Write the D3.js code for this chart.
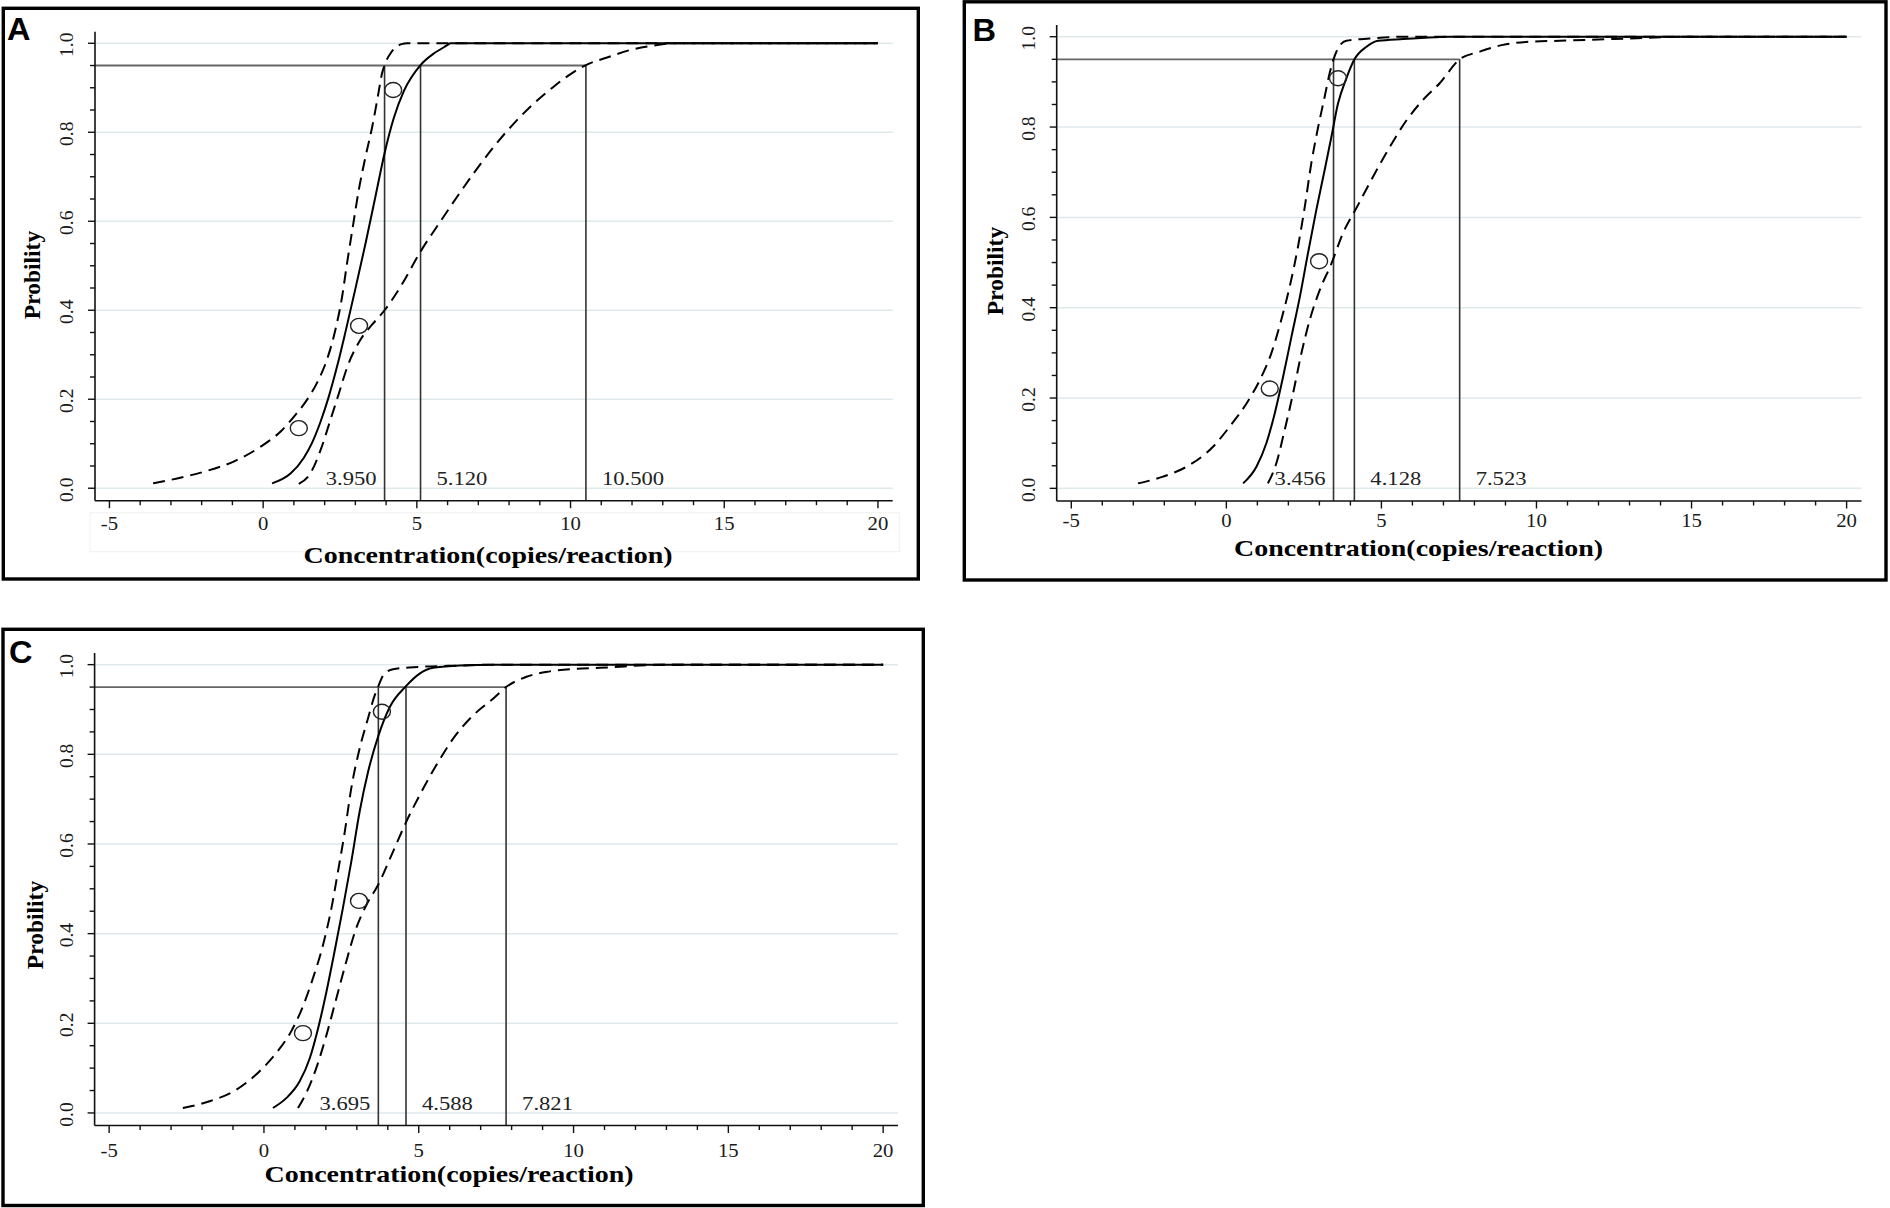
<!DOCTYPE html>
<html><head><meta charset="utf-8">
<script src="https://cdn.jsdelivr.net/npm/d3@7/dist/d3.min.js"></script>
<style>body{margin:0;background:#fff}svg{display:block}</style>
</head><body>
<svg id="chart" width="1890" height="1208"></svg>
<script>
// ---------- data ----------
const panelLetters = ["A", "B", "C"];
const xTickValues = [-5, 0, 5, 10, 15, 20];
const yTickValues = [0, 0.2, 0.4, 0.6, 0.8, 1.0];
const yTickLabels = ["0.0", "0.2", "0.4", "0.6", "0.8", "1.0"];
const xAxisTitle = "Concentration(copies/reaction)";
const yAxisTitle = "Probility";
const targetProb = 0.95;

const fitA = [[0.29,0.011],[0.89,0.033],[1.32,0.068],[1.59,0.102],[1.87,0.15],[2.14,0.207],[2.41,0.275],[2.68,0.352],[3.00,0.448],[3.33,0.55],[3.66,0.658],[3.95,0.753],[4.25,0.832],[4.58,0.893],[5.12,0.951],[5.55,0.977],[5.88,0.991],[5.99,0.996],[6.1,1.0],[20,1.0]];
const upperA = [[-3.58,0.011],[-2.80,0.022],[-1.93,0.037],[-0.96,0.060],[-0.09,0.093],[0.62,0.131],[1.05,0.165],[1.42,0.198],[1.76,0.238],[2.08,0.29],[2.35,0.356],[2.57,0.431],[2.73,0.506],[2.90,0.58],[3.11,0.67],[3.33,0.745],[3.55,0.813],[3.73,0.88],[3.87,0.933],[3.95,0.951],[4.18,0.981],[4.50,0.998],[4.69,1.0],[20,1.0]];
const lowerA = [[1.16,0.01],[1.54,0.034],[1.87,0.086],[2.19,0.154],[2.45,0.21],[2.75,0.275],[3.15,0.332],[3.55,0.368],[3.95,0.40],[4.47,0.453],[5.12,0.532],[5.77,0.60],[6.31,0.655],[6.85,0.708],[7.51,0.768],[8.16,0.82],[8.81,0.865],[9.46,0.903],[10.05,0.933],[10.50,0.951],[11.19,0.968],[11.95,0.985],[12.82,0.996],[13.36,1.0],[20,1.0]];
const obsA = [[1.16,0.135],[3.12,0.365],[4.23,0.895]];
const limitsA = [3.950, 5.120, 10.500];
const limitLabelsA = ["3.950", "5.120", "10.500"];

const fitB = [[0.54,0.011],[0.97,0.048],[1.29,0.10],[1.56,0.166],[1.83,0.247],[2.10,0.336],[2.37,0.424],[2.63,0.52],[2.90,0.616],[3.17,0.705],[3.39,0.779],[3.60,0.852],[3.87,0.908],[4.13,0.95],[4.52,0.978],[4.89,0.991],[5.70,0.995],[6.77,0.999],[7.2,1.0],[20,1.0]];
const upperB = [[-2.85,0.011],[-2.04,0.026],[-1.18,0.052],[-0.43,0.092],[0.11,0.137],[0.65,0.188],[1.08,0.24],[1.45,0.299],[1.77,0.373],[2.04,0.446],[2.31,0.535],[2.53,0.624],[2.74,0.72],[2.96,0.80],[3.17,0.867],[3.33,0.919],[3.456,0.95],[3.60,0.974],[3.87,0.991],[4.62,0.996],[5.70,1.0],[20,1.0]];
const lowerB = [[1.34,0.011],[1.61,0.055],[1.88,0.129],[2.15,0.21],[2.42,0.299],[2.69,0.373],[3.01,0.439],[3.39,0.498],[3.76,0.565],[4.22,0.624],[4.73,0.69],[5.27,0.756],[5.81,0.815],[6.34,0.86],[6.88,0.897],[7.523,0.95],[8.17,0.967],[8.92,0.982],[9.78,0.989],[10.75,0.991],[12.5,0.995],[15.0,1.0],[20,1.0]];
const obsB = [[1.40,0.221],[2.99,0.503],[3.60,0.908]];
const limitsB = [3.456, 4.128, 7.523];
const limitLabelsB = ["3.456", "4.128", "7.523"];

const fitC = [[0.29,0.011],[0.72,0.033],[1.15,0.07],[1.48,0.122],[1.75,0.189],[2.02,0.271],[2.28,0.36],[2.55,0.457],[2.82,0.56],[3.09,0.672],[3.36,0.76],[3.69,0.84],[4.06,0.905],[4.588,0.952],[5.03,0.98],[5.46,0.993],[6.33,0.998],[7.40,1.0],[20,1.0]];
const upperC = [[-2.62,0.011],[-1.76,0.026],[-0.89,0.052],[-0.14,0.093],[0.40,0.134],[0.88,0.182],[1.26,0.238],[1.58,0.30],[1.91,0.375],[2.18,0.457],[2.39,0.538],[2.61,0.627],[2.82,0.724],[3.09,0.813],[3.36,0.88],[3.58,0.932],[3.695,0.952],[3.85,0.976],[4.17,0.99],[5.03,0.995],[6.33,0.998],[7.4,1.0],[20,1.0]];
const lowerC = [[1.10,0.011],[1.37,0.045],[1.69,0.10],[2.02,0.174],[2.34,0.256],[2.66,0.338],[2.98,0.412],[3.31,0.464],[3.69,0.509],[4.17,0.583],[4.60,0.65],[5.03,0.709],[5.57,0.776],[6.11,0.835],[6.76,0.887],[7.40,0.924],[7.821,0.95],[8.48,0.973],[9.23,0.985],[10.10,0.991],[10.85,0.993],[13.0,1.0],[20,1.0]];
const obsC = [[1.26,0.178],[3.07,0.473],[3.81,0.895]];
const limitsC = [3.695, 4.588, 7.821];
const limitLabelsC = ["3.695", "4.588", "7.821"];

// ---------- layout (pixel geometry, not data) ----------
const xDomain = [-5.47, 20.48];
const yDomain = [-0.028, 1.026];
const layouts = [
  {frame:[3.3, 8.3, 918.3, 579], xr:[95, 892.7], yr:[500.7, 31.7], letter:[7, 40], yT:[40, 275], xTickBase:530, xT:[303.5, 563], faint:true},
  {frame:[964.3, 1.8, 1886, 580], xr:[1056.7, 1861.5], yr:[501, 25], letter:[972.5, 40.5], yT:[1002.5, 271], xTickBase:527, xT:[1234, 556], faint:false},
  {frame:[3, 629.3, 923.3, 1205.5], xr:[94.6, 898], yr:[1125.5, 653], letter:[9, 663], yT:[42.5, 925], xTickBase:1157, xT:[264.5, 1182], faint:false}
];
const panelData = [
  {fit:fitA, upper:upperA, lower:lowerA, obs:obsA, limits:limitsA, labels:limitLabelsA},
  {fit:fitB, upper:upperB, lower:lowerB, obs:obsB, limits:limitsB, labels:limitLabelsB},
  {fit:fitC, upper:upperC, lower:lowerC, obs:obsC, limits:limitsC, labels:limitLabelsC}
];

const svg = d3.select("#chart");
svg.append("rect").attr("width",1890).attr("height",1208).attr("fill","#fff");
const SERIF = "'Liberation Serif','Times New Roman',serif";
const SANS = "'Liberation Sans',Arial,sans-serif";

function stretch(sel, k) {
  sel.each(function(){
    const w = this.getComputedTextLength();
    d3.select(this).attr("textLength", w*k).attr("lengthAdjust","spacingAndGlyphs");
  });
}

layouts.forEach((L, i) => {
  const D = panelData[i];
  const g = svg.append("g");
  const x = d3.scaleLinear().domain(xDomain).range(L.xr);
  const y = d3.scaleLinear().domain(yDomain).range(L.yr);

  const [fx0, fy0, fx1, fy1] = L.frame;
  g.append("rect").attr("x",fx0).attr("y",fy0).attr("width",fx1-fx0).attr("height",fy1-fy0)
    .attr("fill","none").attr("stroke","#000").attr("stroke-width",3.4);

  if (L.faint) {
    g.append("rect").attr("x",L.xr[0]-5).attr("y",L.yr[0]+12).attr("width",L.xr[1]-L.xr[0]+12).attr("height",39)
      .attr("fill","none").attr("stroke","#f1f1f1").attr("stroke-width",1);
  }

  g.selectAll(".grid").data(yTickValues).join("line")
    .attr("x1",L.xr[0]).attr("x2",L.xr[1]).attr("y1",d=>y(d)).attr("y2",d=>y(d))
    .attr("stroke","#dfe9ec").attr("stroke-width",1.5);

  const lim = D.limits;
  g.append("line").attr("x1",L.xr[0]).attr("x2",x(lim[2])).attr("y1",y(targetProb)).attr("y2",y(targetProb))
    .attr("stroke","#666").attr("stroke-width",1.8);
  g.selectAll(".vl").data(lim).join("line")
    .attr("x1",d=>x(d)).attr("x2",d=>x(d)).attr("y1",L.yr[0]).attr("y2",y(targetProb))
    .attr("stroke","#333").attr("stroke-width",1.6);

  const line = d3.line().x(d=>x(d[0])).y(d=>y(d[1])).curve(d3.curveMonotoneX);
  [D.upper, D.lower].forEach(c => {
    g.append("path").attr("d",line(c)).attr("fill","none").attr("stroke","#000")
      .attr("stroke-width",2).attr("stroke-dasharray","12,7");
  });
  g.append("path").attr("d",line(D.fit)).attr("fill","none").attr("stroke","#000").attr("stroke-width",2);

  g.selectAll(".pt").data(D.obs).join("ellipse")
    .attr("cx",d=>x(d[0])).attr("cy",d=>y(d[1])).attr("rx",8.5).attr("ry",7.5)
    .attr("fill","none").attr("stroke","#222").attr("stroke-width",1.4);

  const lab = g.selectAll(".lab").data(lim).join("text")
    .attr("x",(d,j)=> j===0 ? x(d)-8 : x(d)+16)
    .attr("y",y(0)-3)
    .attr("text-anchor",(d,j)=> j===0 ? "end" : "start")
    .attr("font-family",SERIF).attr("font-size",19.5).attr("fill","#222")
    .text((d,j)=>D.labels[j]);
  stretch(lab, 1.16);

  g.append("line").attr("x1",L.xr[0]).attr("x2",L.xr[1]).attr("y1",L.yr[0]).attr("y2",L.yr[0])
    .attr("stroke","#111").attr("stroke-width",1.6);
  g.append("line").attr("x1",L.xr[0]).attr("x2",L.xr[0]).attr("y1",L.yr[0]).attr("y2",L.yr[1])
    .attr("stroke","#111").attr("stroke-width",1.6);

  const xMinor = d3.range(-5, 20.5, 1);
  g.selectAll(".xt").data(xMinor).join("line")
    .attr("x1",d=>x(d)).attr("x2",d=>x(d)).attr("y1",L.yr[0])
    .attr("y2",d=> xTickValues.includes(d) ? L.yr[0]+7.5 : L.yr[0]+4.5)
    .attr("stroke","#111").attr("stroke-width",1.4);
  const yMinor = d3.range(0, 1.0001, 0.05).map(v=>+v.toFixed(2));
  g.selectAll(".yt").data(yMinor).join("line")
    .attr("y1",d=>y(d)).attr("y2",d=>y(d)).attr("x1",L.xr[0])
    .attr("x2",d=> yTickValues.some(t=>Math.abs(t-d)<1e-6) ? L.xr[0]-7 : L.xr[0]-5)
    .attr("stroke","#111").attr("stroke-width",1.4);

  const xl = g.selectAll(".xl").data(xTickValues).join("text")
    .attr("x",d=>x(d)).attr("y",L.xTickBase).attr("text-anchor","middle")
    .attr("font-family",SERIF).attr("font-size",18.5).attr("fill","#1a1a1a").text(d=>String(d));
  stretch(xl, 1.12);

  g.selectAll(".yl").data(yTickValues).join("text")
    .attr("transform",d=>`translate(${L.xr[0]-22},${y(d)+1.5}) rotate(-90)`)
    .attr("text-anchor","middle")
    .attr("font-family",SERIF).attr("font-size",19.5).attr("fill","#1a1a1a")
    .text((d,j)=>yTickLabels[j]);

  g.append("text").attr("x",L.xT[0]).attr("y",L.xT[1])
    .attr("font-family",SERIF).attr("font-weight","bold").attr("font-size",24).attr("fill","#000")
    .attr("textLength",369).attr("lengthAdjust","spacingAndGlyphs").text(xAxisTitle);
  g.append("text").attr("transform",`translate(${L.yT[0]},${L.yT[1]}) rotate(-90)`)
    .attr("text-anchor","middle")
    .attr("font-family",SERIF).attr("font-weight","bold").attr("font-size",23.5).attr("fill","#000")
    .text(yAxisTitle);

  const lt = g.append("text").attr("x",L.letter[0]).attr("y",L.letter[1])
    .attr("font-family",SANS).attr("font-weight","bold").attr("font-size",31).attr("fill","#000")
    .text(panelLetters[i]);
  stretch(lt, 1.05);
});
</script>
</body></html>
